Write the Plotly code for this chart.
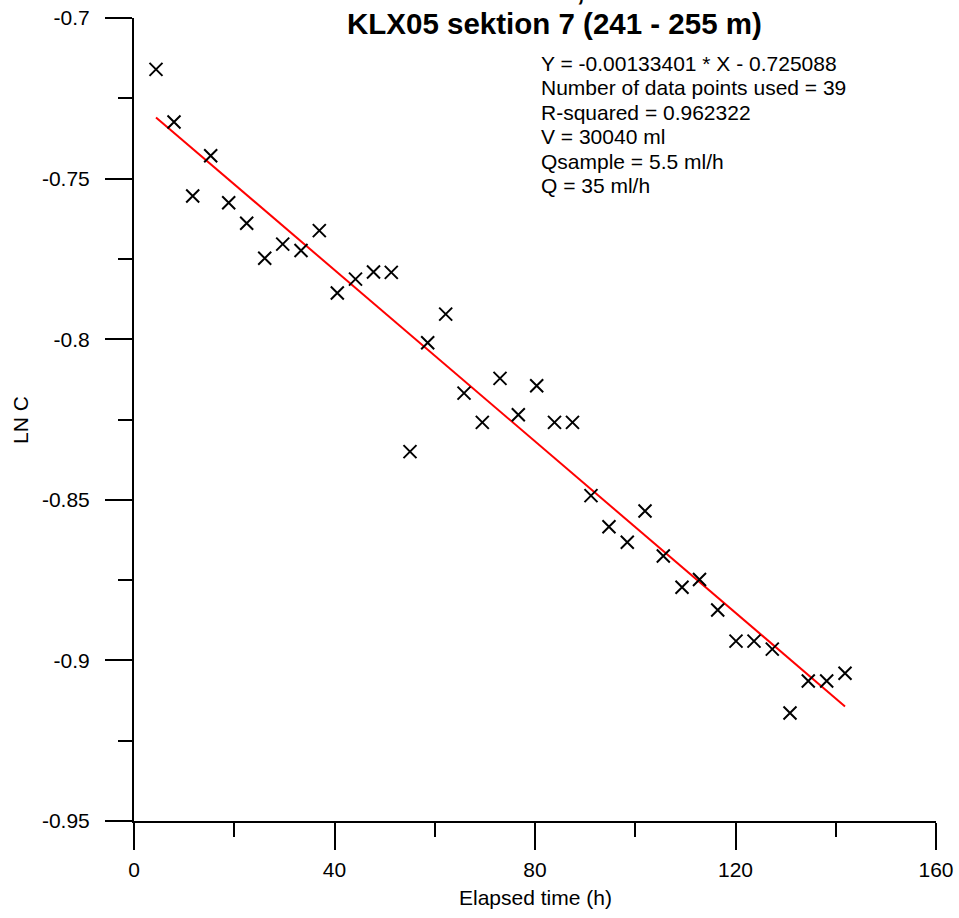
import plotly.graph_objects as go

# ---- data ----
elapsed_h = [4.39, 7.98, 11.71, 15.30, 18.89, 22.48, 26.08, 29.67, 33.32, 36.97,
             40.56, 44.19, 47.78, 51.33, 55.06, 58.59, 62.18, 65.84, 69.49, 73.02,
             76.67, 80.34, 83.89, 87.48, 91.17, 94.76, 98.41, 101.95, 105.60, 109.33,
             112.82, 116.45, 120.10, 123.69, 127.34, 130.87, 134.52, 138.19, 141.85]
ln_c = [-0.7160, -0.7324, -0.7554, -0.7429, -0.7575, -0.7639, -0.7748, -0.7704, -0.7724, -0.7662,
        -0.7856, -0.7813, -0.7791, -0.7792, -0.8350, -0.8011, -0.7922, -0.8168, -0.8259, -0.8122,
        -0.8235, -0.8145, -0.8259, -0.8259, -0.8487, -0.8584, -0.8632, -0.8535, -0.8675, -0.8772,
        -0.8748, -0.8843, -0.8940, -0.8940, -0.8965, -0.9164, -0.9064, -0.9064, -0.9040]

fit_slope = -0.00133401
fit_intercept = -0.725088

x_tick_vals = [0, 40, 80, 120, 160]
x_tick_text = ["0", "40", "80", "120", "160"]
y_tick_vals = [-0.95, -0.9, -0.85, -0.8, -0.75, -0.7]
y_tick_text = ["-0.95", "-0.9", "-0.85", "-0.8", "-0.75", "-0.7"]

info_lines = [
    "Y = -0.00133401 * X - 0.725088",
    "Number of data points used = 39",
    "R-squared = 0.962322",
    "V = 30040 ml",
    "Qsample = 5.5 ml/h",
    "Q = 35 ml/h",
]
title_line1 = "Dilution test, Uranine"
title_line2 = "KLX05 sektion 7 (241 - 255 m)"
x_title = "Elapsed time (h)"
y_title = "LN C"

# ---- figure ----
W, H = 959, 918
L, R, T, B = 134, 23, 18, 97
plot_h = H - T - B
plot_w = W - L - R
FONT = "Liberation Sans, Arial, sans-serif"
FS = 21


def py(p):  # pixel row -> paper y
    return (H - B - p) / plot_h


def px(p):  # pixel col -> paper x
    return (p - L) / plot_w


x0, x1 = min(elapsed_h), max(elapsed_h)

fig = go.Figure()
fig.add_trace(go.Scatter(
    x=[x0, x1], y=[fit_slope * x0 + fit_intercept, fit_slope * x1 + fit_intercept],
    mode="lines", line=dict(color="#ff0000", width=2), showlegend=False,
))
fig.add_trace(go.Scatter(
    x=elapsed_h, y=ln_c, mode="markers",
    marker=dict(symbol="x-thin", size=13, line=dict(color="black", width=2)),
    showlegend=False,
))

axis_common = dict(
    showline=True, linecolor="black", linewidth=2, showgrid=False, zeroline=False,
    ticks="outside", ticklen=27, tickwidth=2, tickcolor="black", automargin=False,
    tickfont=dict(family=FONT, size=FS, color="black"),
)
fig.update_xaxes(range=[0, 160], tickmode="array", tickvals=x_tick_vals, ticktext=x_tick_text,
                 minor=dict(dtick=20, tick0=0, ticks="outside", ticklen=14, tickwidth=2, tickcolor="black"),
                 ticklabelstandoff=2, **axis_common)
fig.update_yaxes(range=[-0.95, -0.7], tickmode="array", tickvals=y_tick_vals, ticktext=y_tick_text,
                 minor=dict(dtick=0.025, tick0=-0.95, ticks="outside", ticklen=14, tickwidth=2, tickcolor="black"),
                 ticklabelstandoff=11, **axis_common)

ann = []
# statistics block
for i, t in enumerate(info_lines):
    ann.append(dict(text=t, x=px(539), y=py(63 + 24.5 * i), xref="paper", yref="paper",
                    xanchor="left", yanchor="middle", showarrow=False,
                    font=dict(family=FONT, size=FS, color="black")))
# title
ann.append(dict(text="<b>" + title_line2 + "</b>", x=px(554), y=py(23), xref="paper", yref="paper",
                xanchor="center", yanchor="middle", showarrow=False,
                font=dict(family=FONT, size=29.5, color="black")))
ann.append(dict(text="<b>" + title_line1 + "</b>", x=px(554), y=py(-11), xref="paper", yref="paper",
                xanchor="center", yanchor="middle", showarrow=False,
                font=dict(family=FONT, size=29.5, color="black")))
# axis titles
ann.append(dict(text=x_title, x=px(535), y=py(897), xref="paper", yref="paper",
                xanchor="center", yanchor="middle", showarrow=False,
                font=dict(family=FONT, size=FS, color="black")))
ann.append(dict(text=y_title, x=px(20), y=py(420), xref="paper", yref="paper", textangle=-90,
                xanchor="center", yanchor="middle", showarrow=False,
                font=dict(family=FONT, size=FS, color="black")))

fig.update_layout(
    width=W, height=H, margin=dict(l=L, r=R, t=T, b=B, pad=0, autoexpand=False),
    paper_bgcolor="white", plot_bgcolor="white",
    annotations=ann, showlegend=False,
)
fig.write_html("out.html")
